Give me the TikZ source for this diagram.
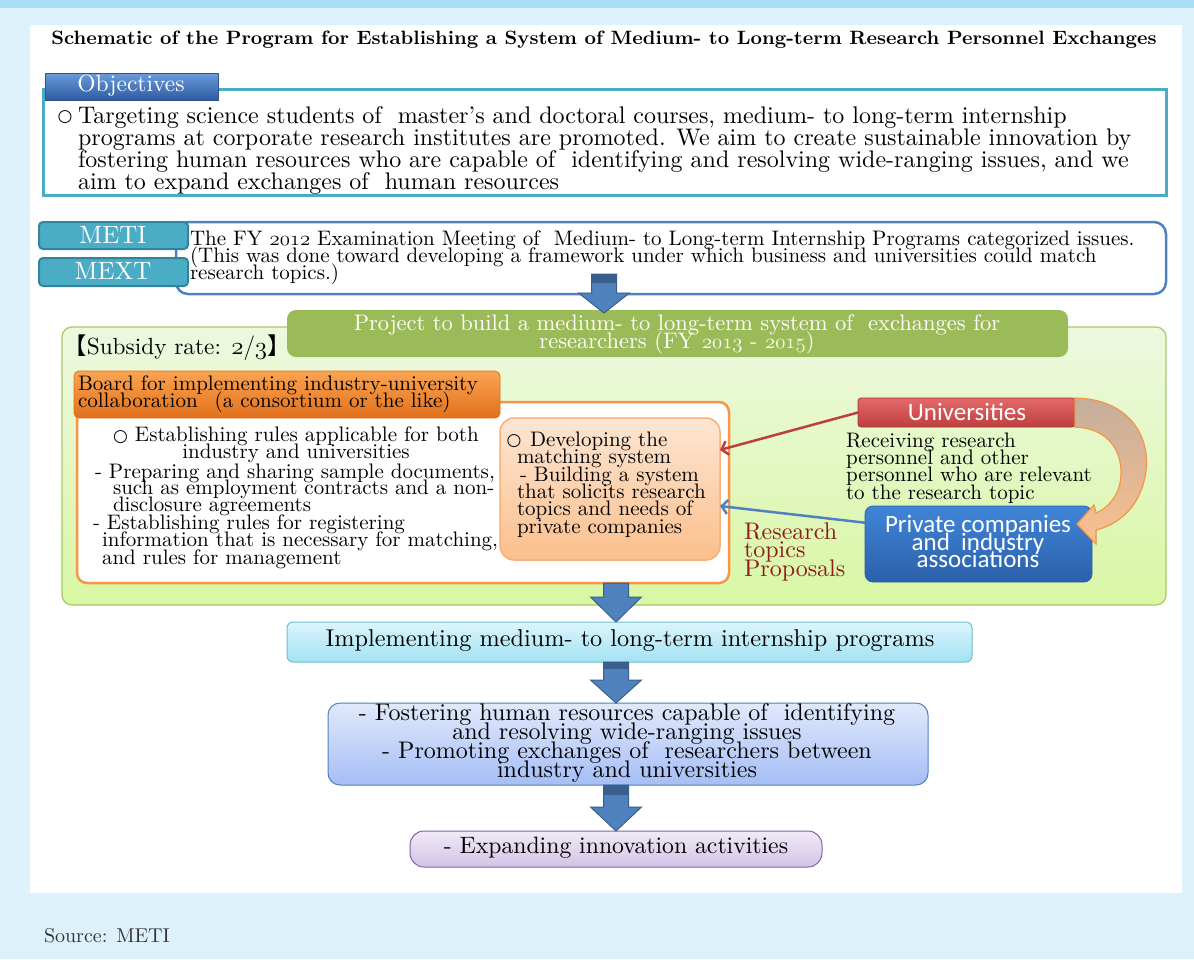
\documentclass[tikz,border=0pt]{standalone}
\usepackage{fontspec}
\usepackage{graphicx}
\usetikzlibrary{arrows.meta,calc}
\setmainfont{lmroman10-regular.otf}[BoldFont=lmroman10-bold.otf]
\newfontfamily\cjk{Noto Sans CJK JP}
\newfontfamily\calib{Carlito}
\newfontfamily\dvs{DejaVu Sans}
\newcommand\osn[1]{$\mathnormal{#1}$}
\newcommand\fs[2]{\fontsize{#1}{#2}\selectfont\lineskiplimit=-100pt\lineskip=0pt}
\newcommand\bul{{\dvs\bfseries\fontsize{17}{17}\selectfont ○}}
\definecolor{bgblue}{HTML}{DDF1FB}
\definecolor{bandblue}{HTML}{A8DDF6}
\definecolor{teal}{HTML}{4BACC6}
\definecolor{tealdark}{HTML}{31849B}
\definecolor{blueline}{HTML}{4F81BD}
\definecolor{arrowblue}{HTML}{4F81BD}
\definecolor{arrowdark}{HTML}{3A5F8F}
\definecolor{greentop}{HTML}{EDF8E0}
\definecolor{greenbot}{HTML}{D9F7A4}
\definecolor{greenline}{HTML}{A8C864}
\definecolor{greenhead}{HTML}{9BBB59}
\definecolor{orangeline}{HTML}{F79646}
\definecolor{orangetop}{HTML}{FAA452}
\definecolor{orangebot}{HTML}{E2701C}
\definecolor{matchtop}{HTML}{FDE6D3}
\definecolor{matchbot}{HTML}{FBBF8C}
\definecolor{matchline}{HTML}{F8B07B}
\definecolor{univtop}{HTML}{E46A6A}
\definecolor{univbot}{HTML}{BE3E3E}
\definecolor{univline}{HTML}{A33535}
\definecolor{privtop}{HTML}{4085D8}
\definecolor{privbot}{HTML}{2B60AA}
\definecolor{impltop}{HTML}{DBF5FC}
\definecolor{implbot}{HTML}{A3E2F4}
\definecolor{fosttop}{HTML}{E1E9FB}
\definecolor{fostbot}{HTML}{A5BEF6}
\definecolor{exptop}{HTML}{F1EBF6}
\definecolor{expbot}{HTML}{D2C2E6}
\definecolor{expline}{HTML}{8064A2}
\definecolor{resred}{HTML}{8E1B1B}
\definecolor{curvtop}{HTML}{C4AE9C}
\definecolor{curvbot}{HTML}{FBC08E}
\definecolor{srcgray}{HTML}{333333}
\definecolor{tabtop}{HTML}{6A9BDB}
\definecolor{tabbot}{HTML}{2D5CA3}
\definecolor{tabline}{HTML}{2F528F}
\newcommand\bigarrow[4]{%
  \filldraw[fill=arrowblue,draw=arrowdark,line width=1pt]
    ($(#1)+(-12.5,0)$) -- ($(#2)+(-12.5,-#3)$) -- ($(#2)+(-25.5,-#3)$) -- (#2)
    -- ($(#2)+(25.5,-#3)$) -- ($(#2)+(12.5,-#3)$) -- ($(#1)+(12.5,0)$) -- cycle;
  \fill[arrowdark] ($(#1)+(-12.5,0)$) rectangle ($(#1)+(12.5,#4)$);}
\tikzset{
  shape box/.style={rectangle, inner sep=0pt, outer sep=0pt, anchor=north west},
  txt/.style={inner sep=0pt, outer sep=0pt, text=black, align=left},
  ctxt/.style={inner sep=0pt, outer sep=0pt, text=black, align=center},
  redconn/.style={draw=univbot, line width=2.5pt, -{Straight Barb[length=6pt,width=14pt]}},
  blueconn/.style={draw=blueline, line width=2.5pt, -{Straight Barb[length=6pt,width=14pt]}},
}
\begin{document}
\begin{tikzpicture}[x=1pt,y=-1pt]
\useasboundingbox (0,0) rectangle (1194,959);
\fill[bgblue] (0,0) rectangle (1194,959);
\fill[bandblue] (0,0) rectangle (1194,8);
\node[shape box, fill=white, minimum width=1152pt, minimum height=868pt] (panel) at (30,25) {};
% title
\node[ctxt] (title) at (604,40) {\resizebox{1105pt}{13.5pt}{\bfseries Schematic of the Program for Establishing a System of Medium- to Long-term Research Personnel Exchanges}};
% objectives
\node[shape box, draw=teal, line width=3pt, minimum width=1123pt, minimum height=106pt] (objbox) at (43,89) {};
\node[shape box, draw=tabline, line width=0.8pt, top color=tabtop, bottom color=tabbot, minimum width=173pt, minimum height=27pt] (objtab) at (45,73) {};
\node[ctxt, text=white, font=\fs{23.5}{23.5}] (objtitle) at (131,86) {Objectives};
\node[txt] (objbul) at (65,117) {\bul};
\node[txt, anchor=west, font=\fs{24}{22}] (objtext) at (78,151) {Targeting science students of \ master’s and doctoral courses, medium- to long-term internship\\programs at corporate research institutes are promoted. We aim to create sustainable innovation by\\fostering human resources who are capable of \ identifying and resolving wide-ranging issues, and we\\aim to expand exchanges of \ human resources};
% meeting
\node[shape box, draw=blueline, line width=2.5pt, fill=white, rounded corners=12pt, minimum width=990pt, minimum height=72pt] (meet) at (176,222) {};
\node[shape box, draw=tealdark, line width=2pt, fill=teal, rounded corners=4pt, minimum width=149pt, minimum height=27pt] (meti) at (39,222) {};
\node[shape box, draw=tealdark, line width=2pt, fill=teal, rounded corners=4pt, minimum width=149pt, minimum height=28pt] (mext) at (39,258) {};
\node[ctxt, text=white, font=\fs{25}{25}] (metitxt) at (113,235) {METI};
\node[ctxt, text=white, font=\fs{25}{25}] (mexttxt) at (113,271) {MEXT};
\node[txt, anchor=west, font=\fs{21}{16.8}] (meettext) at (190,258) {The FY \osn{2012} Examination Meeting of \ Medium- to Long-term Internship Programs categorized issues.\\(This was done toward developing a framework under which business and universities could match\\research topics.)};
% green area
\node[shape box, draw=greenline, line width=1.2pt, top color=greentop, bottom color=greenbot, rounded corners=10pt, minimum width=1104pt, minimum height=278pt] (green) at (62,327) {};
\node[shape box, fill=greenhead, rounded corners=9pt, minimum width=781pt, minimum height=47pt] (ghead) at (287,310) {};
\node[ctxt, text=white, font=\fs{22.5}{18}] (gheadtxt) at (677,334) {Project to build a medium- to long-term system of \ exchanges for\\researchers (FY \osn{2013} - \osn{2015})};
\node[txt, anchor=west, font=\fs{23.3}{23.3}] (subsidy) at (63.5,348) {{\cjk 【}Subsidy rate: \osn{2/3}{\cjk 】}};
% board
\node[shape box, draw=orangeline, line width=2.5pt, fill=white, rounded corners=10pt, minimum width=652pt, minimum height=181pt] (board) at (77,402) {};
\node[shape box, draw=orangebot, line width=0.8pt, top color=orangetop, bottom color=orangebot, rounded corners=5pt, minimum width=426pt, minimum height=47pt] (bhead) at (74,371) {};
\node[txt, anchor=west, font=\fs{21}{16.5}] (bheadtxt) at (78,394) {Board for implementing industry-university\\collaboration\hspace{17pt}(a consortium or the like)};
\node[ctxt, font=\fs{21}{17}] (rulesA) at (296,445) {\bul\ Establishing rules applicable for both\\industry and universities};
\node[txt, anchor=west, font=\fs{21}{16.5}] (rulesB) at (95,489.5) {- Preparing and sharing sample documents,\\\hspace*{18pt}such as employment contracts and a non-\\\hspace*{18pt}disclosure agreements};
\node[txt, anchor=west, font=\fs{21}{17.5}] (rulesC) at (93,541.5) {- Establishing rules for registering\\\hspace*{9pt}information that is necessary for matching,\\\hspace*{9pt}and rules for management};
% matching
\node[shape box, draw=matchline, line width=1.5pt, top color=matchtop, bottom color=matchbot, rounded corners=14pt, minimum width=220pt, minimum height=142pt] (match) at (500,418) {};
\node[txt] (matchbul) at (514,441) {\bul};
\node[txt, anchor=west, font=\fs{21}{17.4}] (matchtxt) at (517,484.5) {\hspace*{13pt}Developing the\\matching system\\\hspace*{3pt}- Building a system\\that solicits research\\topics and needs of\\private companies};
% universities & companies
\node[shape box, draw=univline, line width=0.8pt, top color=univtop, bottom color=univbot, rounded corners=3pt, minimum width=217pt, minimum height=29pt] (univ) at (858,398) {};
\node[ctxt, text=white, font=\calib\fs{25}{25}] (univtxt) at (967,412) {Universities};
\node[txt, anchor=west, font=\fs{21}{17.4}] (recv) at (846,468) {Receiving research\\personnel and other\\personnel who are relevant\\to the research topic};
\node[shape box, draw=privbot, line width=0.8pt, top color=privtop, bottom color=privbot, rounded corners=8pt, minimum width=227pt, minimum height=76pt] (priv) at (865,506) {};
\node[ctxt, text=white, font=\calib\fs{25}{17.5}] (privtxt) at (978,541.5) {Private companies\\and \ industry\\associations};
\node[txt, anchor=west, text=resred, font=\fs{24}{18.5}] (restxt) at (744,551.5) {Research\\topics\\Proposals};
% curved arrow universities -> companies
\filldraw[draw=orangeline, line width=1.2pt, top color=curvtop, bottom color=curvbot]
  (univ.north east) .. controls (1128,399) and (1150,435) .. (1146,470)
  .. controls (1142,505) and (1120,524) .. (1096,530) -- (1096,544) -- (1077,524) -- (1094,505) -- (1096,513)
  .. controls (1112,506) and (1122,490) .. (1121,470)
  .. controls (1120,446) and (1104,428) .. (univ.south east) -- cycle;
% connectors
\draw[redconn] (univ.west) -- ($(match.north east)!0.225!(match.south east)$);
\draw[blueconn] ($(priv.north west)!0.22!(priv.south west)$) -- ($(match.north east)!0.62!(match.south east)$);
% lower boxes
\node[shape box, draw=teal!80, line width=1pt, top color=impltop, bottom color=implbot, rounded corners=6pt, minimum width=685pt, minimum height=40pt] (impl) at (287,622) {};
\node[ctxt, font=\fs{24.3}{24}] (impltxt) at (630,641) {Implementing medium- to long-term internship programs};
\node[shape box, draw=blueline, line width=1pt, top color=fosttop, bottom color=fostbot, rounded corners=12pt, minimum width=600pt, minimum height=82pt] (fost) at (328,703) {};
\node[ctxt, font=\fs{24}{19}] (fosttxt) at (627,743) {- Fostering human resources capable of \ identifying\\and resolving wide-ranging issues\\- Promoting exchanges of \ researchers between\\industry and universities};
\node[shape box, draw=expline, line width=1pt, top color=exptop, bottom color=expbot, rounded corners=14pt, minimum width=412pt, minimum height=36pt] (expand) at (410,831) {};
\node[ctxt, font=\fs{23.7}{24}] (exptxt) at (616,848) {- Expanding innovation activities};
% big arrows
\coordinate (c1) at (604,0);
\coordinate (c2) at (616,0);
\coordinate (a1s) at ($(meet.south -| c1)+(0,-20)$);
\coordinate (a1t) at ($(ghead.north -| c1)+(0,3)$);
\bigarrow{a1s}{a1t}{20}{9}
\coordinate (a2s) at (board.south -| c2);
\coordinate (a2t) at (impl.north -| c2);
\bigarrow{a2s}{a2t}{25}{0}
\coordinate (a3s) at (impl.south -| c2);
\coordinate (a3t) at (fost.north -| c2);
\bigarrow{a3s}{a3t}{23}{7}
\coordinate (a4s) at (fost.south -| c2);
\coordinate (a4t) at (expand.north -| c2);
\bigarrow{a4s}{a4t}{24}{10}
% source
\node[txt, anchor=west, text=srcgray, font=\fs{20}{20}] (source) at (44,936) {Source: METI};
\end{tikzpicture}
\end{document}
